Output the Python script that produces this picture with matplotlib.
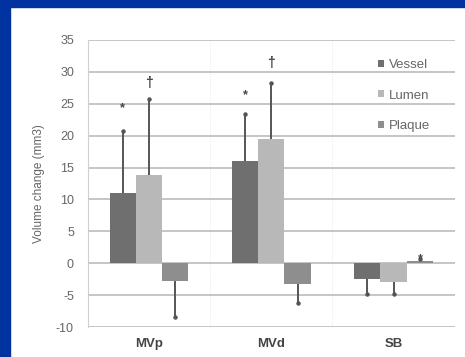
import matplotlib.pyplot as plt
import numpy as np
from matplotlib.patches import Rectangle

plt.rcParams['font.family'] = ['Liberation Sans', 'DejaVu Sans']
plt.rcParams['axes.unicode_minus'] = False

# Volume change per segment
categories = ['MVp', 'MVd', 'SB']
series = ['Vessel', 'Lumen', 'Plaque']
vessel = [11.0, 16.1, -2.5]
lumen = [13.8, 19.4, -2.9]
plaque = [-2.8, -3.2, 0.3]
vessel_err = [9.7, 7.3, 2.4]
lumen_err = [11.9, 8.9, 2.0]
plaque_err = [5.7, 3.1, 0.3]

# significance marks: (category index, series index, y, symbol)
marks = [(0, 0, 24.3, '*'), (0, 1, 28.2, '\u2020'),
         (1, 0, 26.4, '*'), (1, 1, 31.4, '\u2020'),
         (2, 2, 0.7, '*')]

colors = ['#6f6f6f', '#b8b8b8', '#8e8e8e']

fig = plt.figure(figsize=(4.65, 3.57), dpi=100)
fig.patch.set_facecolor('white')

# blue frame along top and left edge
fig.patches.append(Rectangle((0, 0), 10 / 465, 1, transform=fig.transFigure,
                             color='#0033a0', zorder=0))
fig.patches.append(Rectangle((0, 1 - 7 / 357), 1, 7 / 357, transform=fig.transFigure,
                             color='#0033a0', zorder=0))

ax = fig.add_axes([0.189, 0.084, 0.789, 0.804])

x = np.arange(len(categories))
width = 0.215
offsets = [-width, 0, width]
values = [vessel, lumen, plaque]
errors = [vessel_err, lumen_err, plaque_err]

for i, name in enumerate(series):
    vals = np.array(values[i])
    errs = np.array(errors[i])
    ax.bar(x + offsets[i], vals, width, color=colors[i], label=name, zorder=3)
    # one-sided error bars in the direction of the bar
    lower = np.where(vals < 0, errs, 0)
    upper = np.where(vals >= 0, errs, 0)
    ax.errorbar(x + offsets[i], vals, yerr=[lower, upper], fmt='none',
                ecolor='#555555', elinewidth=1.4, capsize=0, zorder=4)
    ends = np.where(vals < 0, vals - errs, vals + errs)
    ax.plot(x + offsets[i], ends, linestyle='none', marker='o', markersize=2.2,
            color='#555555', zorder=4)

for ci, si, y, sym in marks:
    ax.text(x[ci] + offsets[si], y, sym, ha='center', va='center',
            fontsize=9 if sym == '*' else 10, color='#444444',
            fontweight='bold', zorder=5)

ax.set_xlim(-0.5, 2.5)
ax.set_ylim(-10, 35)
ax.set_yticks(range(-10, 36, 5))
ax.set_xticks(x)
ax.set_xticklabels(categories, fontweight='bold', fontsize=9.5, color='#444444')
ax.tick_params(axis='x', length=0, pad=8)
ax.tick_params(axis='y', length=0, labelsize=9, labelcolor='#666666', pad=10)

ax.yaxis.grid(True, color='#c0c0c0', linewidth=1.3, zorder=0)
for b in [0.5, 1.5]:
    ax.axvline(b, color='#e6e6e6', linewidth=0.7, linestyle=':', zorder=0)
ax.set_axisbelow(True)
for s in ['top', 'right', 'bottom']:
    ax.spines[s].set_visible(False)
ax.spines['left'].set_color('#d0d0d0')

ax.set_ylabel('Volume change (mm3)', fontsize=8.5, color='#666666', labelpad=8)

ax.legend(loc='upper right', bbox_to_anchor=(0.965, 0.975), frameon=False,
          fontsize=9.5, labelcolor='#666666', handlelength=0.45, handleheight=0.45,
          handletextpad=0.35, labelspacing=1.4)

fig.savefig('out.png', dpi=100)
